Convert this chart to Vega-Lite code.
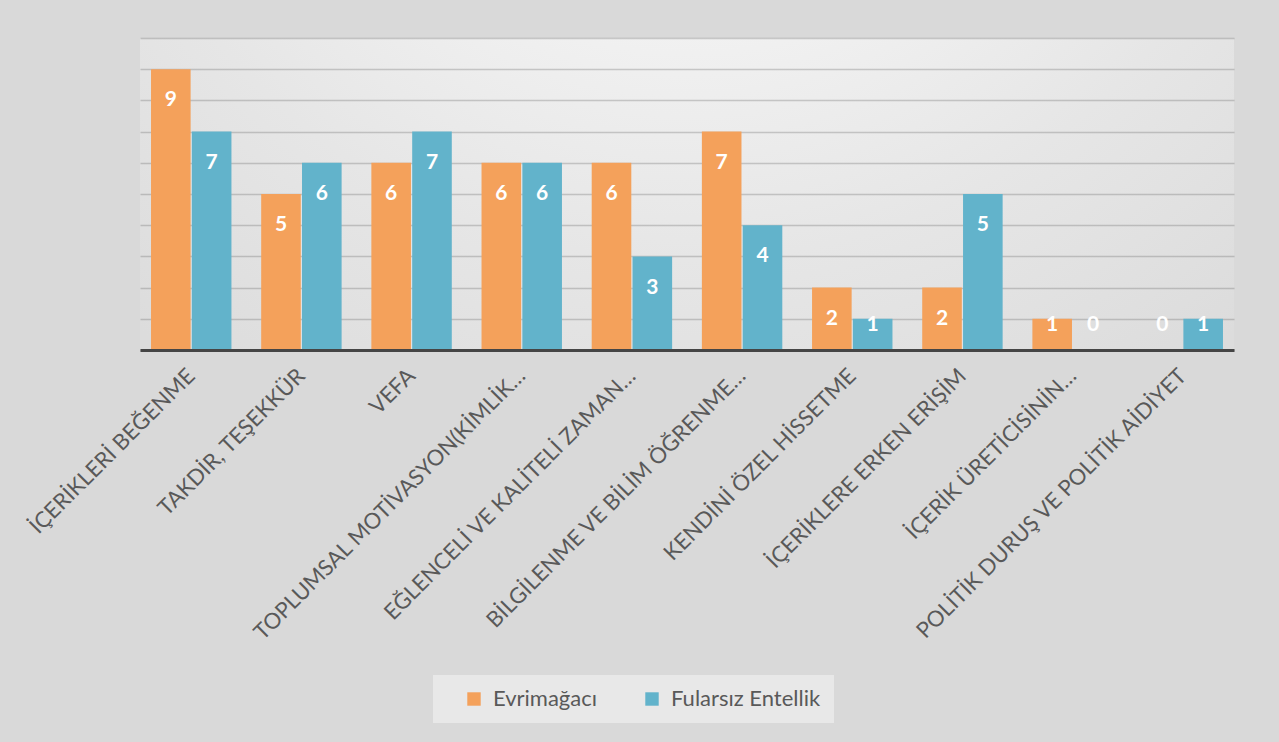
{
  "$schema": "https://vega.github.io/schema/vega-lite/v6.json",
  "width": 1094,
  "height": 312,
  "autosize": {"type": "none"},
  "padding": {"left": 140, "top": 38, "right": 45, "bottom": 392},
  "background": "#d9d9d9",
  "config": {
    "font": "Lato",
    "view": {
      "stroke": null,
      "fill": {
        "gradient": "radial",
        "x1": 0.5, "y1": 0, "r1": 0,
        "x2": 0.5, "y2": 0, "r2": 0.8,
        "stops": [
          {"offset": 0, "color": "#ffffff"},
          {"offset": 0.3, "color": "#f7f7f7"},
          {"offset": 0.7, "color": "#e6e6e6"},
          {"offset": 1, "color": "#dcdcdc"}
        ]
      }
    },
    "axisY": {
      "title": null,
      "values": [0, 1, 2, 3, 4, 5, 6, 7, 8, 9, 10],
      "labels": false,
      "ticks": false,
      "domain": false,
      "grid": true,
      "gridColor": "#5a5a5a",
      "gridOpacity": 0.28,
      "gridWidth": 1.5,
      "zindex": 1
    }
  },
  "data": {
    "values": [
      {"kategori": "İÇERİKLERİ BEĞENME", "kaynak": "Evrimağacı", "deger": 9},
      {"kategori": "İÇERİKLERİ BEĞENME", "kaynak": "Fularsız Entellik", "deger": 7},
      {"kategori": "TAKDİR, TEŞEKKÜR", "kaynak": "Evrimağacı", "deger": 5},
      {"kategori": "TAKDİR, TEŞEKKÜR", "kaynak": "Fularsız Entellik", "deger": 6},
      {"kategori": "VEFA", "kaynak": "Evrimağacı", "deger": 6},
      {"kategori": "VEFA", "kaynak": "Fularsız Entellik", "deger": 7},
      {"kategori": "TOPLUMSAL MOTİVASYON(KİMLİK…", "kaynak": "Evrimağacı", "deger": 6},
      {"kategori": "TOPLUMSAL MOTİVASYON(KİMLİK…", "kaynak": "Fularsız Entellik", "deger": 6},
      {"kategori": "EĞLENCELİ VE KALİTELİ ZAMAN…", "kaynak": "Evrimağacı", "deger": 6},
      {"kategori": "EĞLENCELİ VE KALİTELİ ZAMAN…", "kaynak": "Fularsız Entellik", "deger": 3},
      {"kategori": "BİLGİLENME VE BİLİM ÖĞRENME…", "kaynak": "Evrimağacı", "deger": 7},
      {"kategori": "BİLGİLENME VE BİLİM ÖĞRENME…", "kaynak": "Fularsız Entellik", "deger": 4},
      {"kategori": "KENDİNİ ÖZEL HİSSETME", "kaynak": "Evrimağacı", "deger": 2},
      {"kategori": "KENDİNİ ÖZEL HİSSETME", "kaynak": "Fularsız Entellik", "deger": 1},
      {"kategori": "İÇERİKLERE ERKEN ERİŞİM", "kaynak": "Evrimağacı", "deger": 2},
      {"kategori": "İÇERİKLERE ERKEN ERİŞİM", "kaynak": "Fularsız Entellik", "deger": 5},
      {"kategori": "İÇERİK ÜRETİCİSİNİN…", "kaynak": "Evrimağacı", "deger": 1},
      {"kategori": "İÇERİK ÜRETİCİSİNİN…", "kaynak": "Fularsız Entellik", "deger": 0},
      {"kategori": "POLİTİK DURUŞ VE POLİTİK AİDİYET", "kaynak": "Evrimağacı", "deger": 0},
      {"kategori": "POLİTİK DURUŞ VE POLİTİK AİDİYET", "kaynak": "Fularsız Entellik", "deger": 1}
    ]
  },
  "encoding": {
    "x": {
      "field": "kategori",
      "type": "nominal",
      "sort": null,
      "scale": {"paddingInner": 0.27, "paddingOuter": 0.1},
      "axis": {
        "title": null,
        "labelAngle": -45,
        "labelAlign": "right",
        "labelBaseline": "middle",
        "labelFont": "Lato",
        "labelFontSize": 22,
        "labelColor": "#595959",
        "labelPadding": 22,
        "labelLimit": 0,
        "ticks": false,
        "domainColor": "#454545",
        "domainWidth": 3,
        "zindex": 1
      }
    },
    "xOffset": {
      "field": "kaynak",
      "sort": ["Evrimağacı", "Fularsız Entellik"],
      "scale": {"paddingInner": 0.03}
    }
  },
  "layer": [
    {
      "mark": {"type": "bar"},
      "encoding": {
        "y": {
          "field": "deger",
          "type": "quantitative",
          "scale": {"domain": [0, 10], "nice": false}
        },
        "color": {
          "field": "kaynak",
          "type": "nominal",
          "sort": ["Evrimağacı", "Fularsız Entellik"],
          "scale": {"domain": ["Evrimağacı", "Fularsız Entellik"], "range": ["#F4A15B", "#62B3CB"]},
          "legend": {
            "title": null,
            "orient": "none",
            "legendX": 293,
            "legendY": 637,
            "direction": "horizontal",
            "fillColor": "#e8e8e8",
            "padding": 13,
            "symbolType": "square",
            "symbolSize": 180,
            "symbolStrokeWidth": 0,
            "symbolOpacity": 1,
            "symbolOffset": 17,
            "labelOffset": 8,
            "labelFont": "Lato",
            "labelFontSize": 22,
            "labelColor": "#595959",
            "columnPadding": 26
          }
        }
      }
    },
    {
      "transform": [{"calculate": "max(datum.deger - 1, 0.8)", "as": "etiketY"}],
      "mark": {"type": "text", "color": "#ffffff", "font": "Lato", "fontWeight": "bold", "fontSize": 21, "baseline": "middle", "align": "center"},
      "encoding": {
        "y": {"field": "etiketY", "type": "quantitative"},
        "text": {"field": "deger", "type": "quantitative"}
      }
    }
  ]
}
